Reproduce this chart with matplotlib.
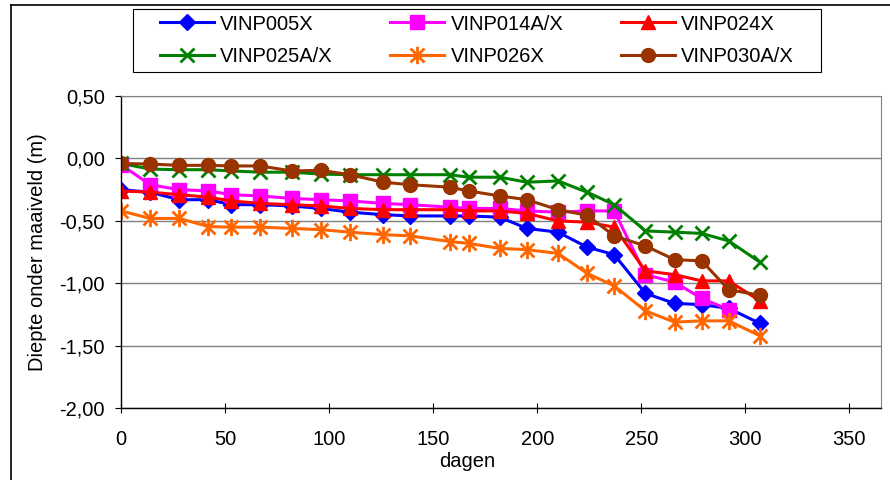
import matplotlib
matplotlib.use("Agg")
import matplotlib.pyplot as plt
from matplotlib.path import Path
from matplotlib.patches import Rectangle
from matplotlib.lines import Line2D
from matplotlib.ticker import FuncFormatter, MultipleLocator

plt.rcParams['font.family'] = ['Liberation Sans', 'DejaVu Sans']

# days since start
dagen = [0, 14, 28, 42, 53, 67, 82, 96, 110, 126, 139, 158, 167, 182, 195,
         210, 224, 237, 252, 266, 279, 292, 307]

vinp005x = [-0.25, -0.27, -0.33, -0.33, -0.37, -0.37, -0.38, -0.40, -0.43, -0.45,
            -0.46, -0.46, -0.46, -0.47, -0.56, -0.59, -0.71, -0.77, -1.08, -1.16,
            -1.17, -1.20, -1.32]
vinp014 = [-0.05, -0.21, -0.25, -0.26, -0.29, -0.30, -0.32, -0.33, -0.34, -0.36,
           -0.37, -0.39, -0.40, -0.40, -0.42, -0.43, -0.42, -0.42, -0.93, -0.99,
           -1.12, -1.21]
vinp024x = [-0.26, -0.27, -0.29, -0.31, -0.34, -0.36, -0.37, -0.38, -0.40, -0.41,
            -0.41, -0.41, -0.42, -0.42, -0.44, -0.50, -0.51, -0.55, -0.90, -0.93,
            -0.98, -0.98, -1.14]
vinp025 = [-0.04, -0.085, -0.09, -0.09, -0.10, -0.11, -0.11, -0.125, -0.13, -0.13,
           -0.13, -0.13, -0.15, -0.15, -0.19, -0.18, -0.27, -0.37, -0.58, -0.59,
           -0.60, -0.66, -0.83]
vinp026x = [-0.42, -0.48, -0.48, -0.545, -0.55, -0.55, -0.56, -0.57, -0.59, -0.61,
            -0.62, -0.665, -0.68, -0.72, -0.73, -0.76, -0.92, -1.02, -1.22, -1.31,
            -1.30, -1.30, -1.42]
vinp030 = [-0.04, -0.045, -0.055, -0.055, -0.06, -0.06, -0.10, -0.095, -0.13, -0.19,
           -0.21, -0.23, -0.26, -0.30, -0.33, -0.41, -0.455, -0.62, -0.70, -0.81,
           -0.82, -1.05, -1.095]

# excel style asterisk: x plus vertical bar
asterisk = Path([(0, -1), (0, 1), (-0.8, -0.8), (0.8, 0.8), (-0.8, 0.8), (0.8, -0.8)],
                [Path.MOVETO, Path.LINETO] * 3)

series = [
    ("VINP005X", vinp005x, "#0000FF", "D", 8.5, 1.0),
    ("VINP014A/X", vinp014, "#FF00FF", "s", 10, 1.0),
    ("VINP024X", vinp024x, "#FF0000", "^", 10.5, 1.0),
    ("VINP025A/X", vinp025, "#008000", "x", 10, 2.0),
    ("VINP026X", vinp026x, "#FF6600", asterisk, 12.5, 2.0),
    ("VINP030A/X", vinp030, "#993300", "o", 10, 1.0),
]

fig = plt.figure(figsize=(8.9, 4.8), dpi=100)
ax = fig.add_axes([121 / 890, 1 - 408.3 / 480, 759.6 / 890, 312.3 / 480])

handles = []
for name, vals, col, mk, ms, mew in series:
    h, = ax.plot(dagen[:len(vals)], vals, color=col, lw=2.2, marker=mk, ms=ms,
                 mec=col, mfc=col, mew=mew, label=name)
    handles.append(h)

ax.set_xlim(0, 365)
ax.set_ylim(-2.0, 0.5)
ax.xaxis.set_major_locator(MultipleLocator(50))
ax.yaxis.set_major_locator(MultipleLocator(0.5))
ax.yaxis.set_major_formatter(FuncFormatter(lambda v, p: f"{v:.2f}".replace(".", ",")))
ax.grid(axis="y", color="#808080", lw=1.0)
ax.set_axisbelow(True)
for s in ("top", "right"):
    ax.spines[s].set_color("#808080")
for s in ("left", "bottom"):
    ax.spines[s].set_color("black")
    ax.spines[s].set_linewidth(1.0)
ax.tick_params(axis="y", direction="out", length=4.5, pad=7, labelsize=14.5)
ax.tick_params(axis="x", direction="inout", length=7, pad=12, labelsize=14.5)

ax.set_xlabel("dagen", fontsize=14.5)
ax.xaxis.set_label_coords(0.456, -0.14)
ax.set_ylabel("Diepte onder maaiveld (m)", fontsize=14.5)
ax.yaxis.set_label_coords(-0.097, 0.5)

# legend fills column-wise, so reorder to get rows like the original
order = [0, 3, 1, 4, 2, 5]
fig.legend([handles[i] for i in order], [series[i][0] for i in order],
           loc="upper left", bbox_to_anchor=(160 / 890, 1 - 14.5 / 480), ncol=3,
           frameon=False, fontsize=14.5, borderpad=0, borderaxespad=0,
           handlelength=2.69, handletextpad=0.3, columnspacing=2.85,
           labelspacing=0.66)

# legend frame and chart border
fig.patches.append(Rectangle((133 / 890, 1 - 72 / 480), 688 / 890, 63 / 480,
                             transform=fig.transFigure, fill=False, ec="black", lw=0.8))
fig.lines.append(Line2D([11 / 890, 11 / 890], [0, 1 - 5 / 480], transform=fig.transFigure,
                        color="black", lw=1.2))
fig.lines.append(Line2D([11 / 890, 1], [1 - 5 / 480, 1 - 5 / 480], transform=fig.transFigure,
                        color="black", lw=1.2))

fig.savefig("out.png", dpi=100)
